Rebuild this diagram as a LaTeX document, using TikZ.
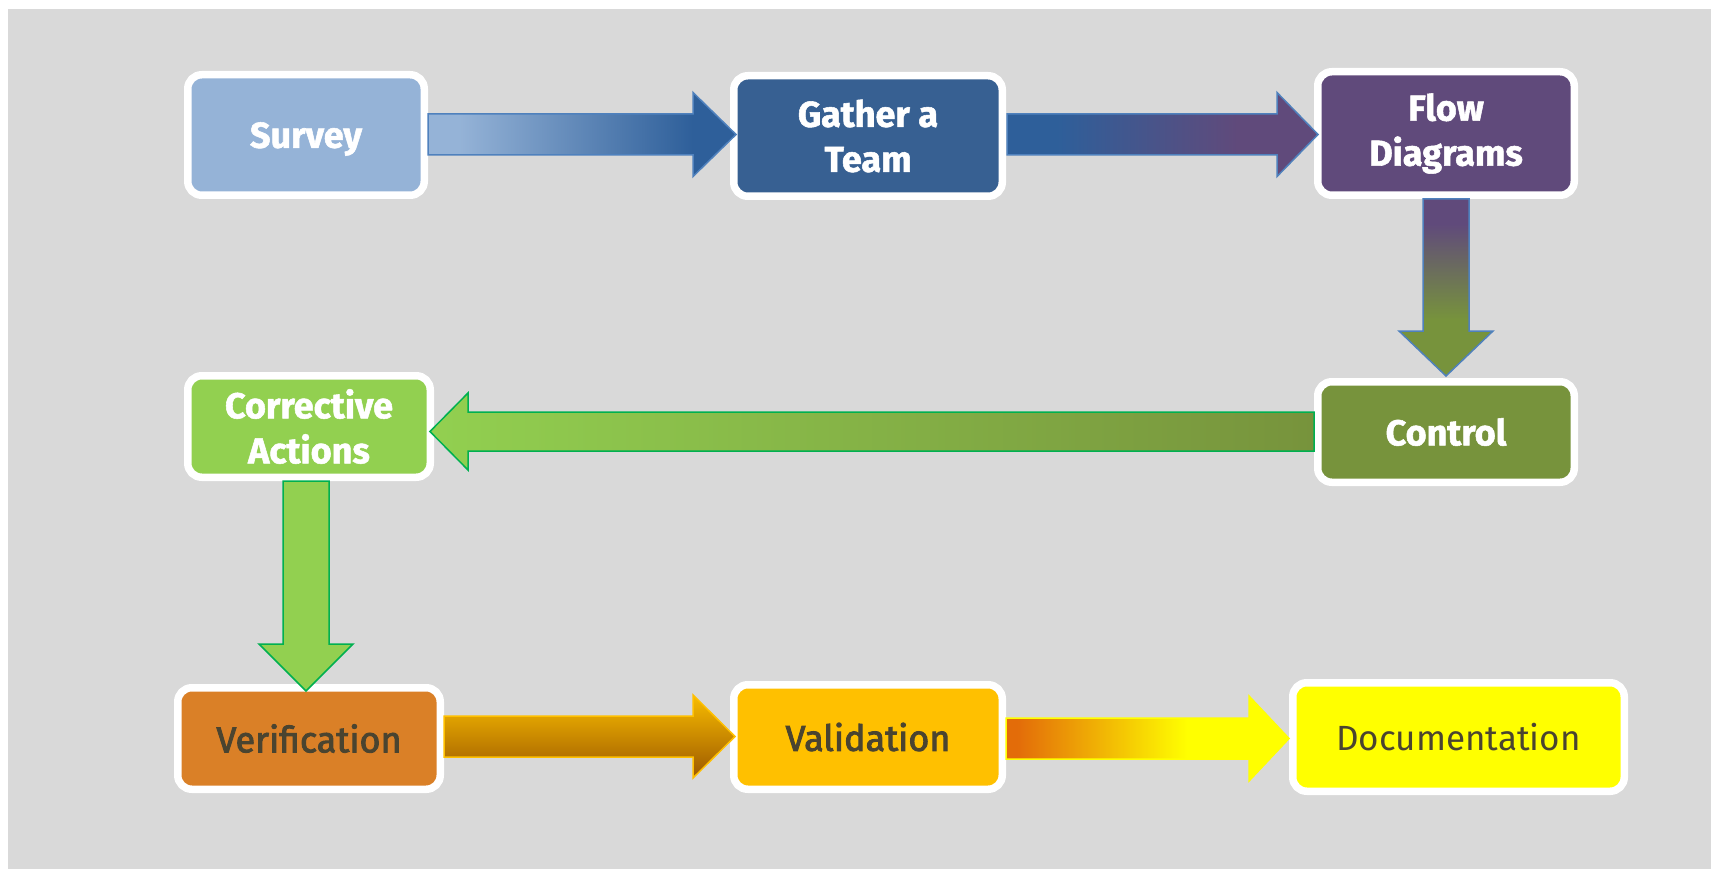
\documentclass[tikz,border=0pt]{standalone}
\usepackage{fontspec}
\setmainfont{Fira Sans}[BoldFeatures={FakeBold=1.5}]
\newfontfamily\medfont{Fira Sans}[FakeBold=2.5]
\usetikzlibrary{calc}
\definecolor{bg}{HTML}{D9D9D9}
\definecolor{cSurvey}{HTML}{95B3D7}
\definecolor{cGather}{HTML}{376092}
\definecolor{cFlow}{HTML}{604A7B}
\definecolor{cControl}{HTML}{77933C}
\definecolor{cCorr}{HTML}{92D050}
\definecolor{cVerif}{HTML}{DA8027}
\definecolor{cValid}{HTML}{FFC000}
\definecolor{cDoc}{HTML}{FFFF00}
\definecolor{cDarkText}{HTML}{4A4430}
\definecolor{blueA}{HTML}{2E5F9A}
\definecolor{lineBlue}{HTML}{4F81BD}
\definecolor{lineGreen}{HTML}{00B050}
\definecolor{gold}{HTML}{F8BC00}
\definecolor{brown}{HTML}{9C5800}
\definecolor{orangeA}{HTML}{E36C09}
\pgfdeclarehorizontalshading{shA}{100bp}{color(0bp)=(cSurvey); color(30bp)=(cSurvey); color(68bp)=(blueA); color(100bp)=(blueA)}
\pgfdeclarehorizontalshading{shB}{100bp}{color(0bp)=(blueA); color(33bp)=(blueA); color(62bp)=(cFlow); color(100bp)=(cFlow)}
\pgfdeclareverticalshading{shC}{100bp}{color(0bp)=(cControl); color(41bp)=(cControl); color(68bp)=(cFlow); color(100bp)=(cFlow)}
\pgfdeclareverticalshading{shF}{100bp}{color(0bp)=(brown); color(25bp)=(brown); color(75bp)=(gold); color(100bp)=(gold)}
\pgfdeclarehorizontalshading{shG}{100bp}{color(0bp)=(orangeA); color(27bp)=(orangeA); color(57bp)=(cDoc); color(100bp)=(cDoc)}
\tikzset{
  box/.style={rectangle, rounded corners=14pt, draw=white, line width=7.5pt,
    inner sep=0pt, align=center, text=white,
    font=\fontsize{36}{45}\selectfont\bfseries},
  darkbox/.style={box, text=cDarkText, font=\fontsize{36}{45}\selectfont\medfont},
  docbox/.style={box, text=cDarkText, font=\fontsize{35}{45}\selectfont},
  blkarrow/.style={line width=1.5pt, line join=miter}
}
% horizontal block arrow: #1 start, #2 tip ref, #3 shaft half, #4 head half, #5 signed head length, #6 style
\newcommand{\harrow}[6]{%
  \coordinate (T) at (#2 |- #1);
  \path[#6] ($(#1)+(0,-#3)$) -- ($(T)+({-(#5)},-#3)$) -- ($(T)+({-(#5)},-#4)$)
    -- (T) -- ($(T)+({-(#5)},#4)$) -- ($(T)+({-(#5)},#3)$) -- ($(#1)+(0,#3)$) -- cycle;}
% vertical (downward) block arrow
\newcommand{\varrow}[6]{%
  \coordinate (T) at (#1 |- #2);
  \path[#6] ($(#1)+(-#3,0)$) -- ($(T)+(-#3,{-(#5)})$) -- ($(T)+(-#4,{-(#5)})$)
    -- (T) -- ($(T)+(#4,{-(#5)})$) -- ($(T)+(#3,{-(#5)})$) -- ($(#1)+(#3,0)$) -- cycle;}
\begin{document}
\begin{tikzpicture}[x=1pt,y=-1pt]
\useasboundingbox (0,0) rectangle (1711,869);
\fill[white] (0,0) rectangle (1711,869);
\fill[bg] (8,9) rectangle (1711,869);

\node[box, fill=cSurvey, minimum width=236.5pt, minimum height=120.5pt, text depth=0pt] (survey) at (306,135) {Survey};
\node[box, fill=cGather, minimum width=268.5pt, minimum height=120.5pt] (gather) at (868,136) {Gather a\\Team};
\node[box, fill=cFlow, minimum width=256.5pt, minimum height=123.5pt] (flow) at (1446,133.5) {Flow\\Diagrams};
\node[box, fill=cControl, minimum width=256.5pt, minimum height=100.5pt] (control) at (1446,432) {Control};
\node[box, fill=cCorr, minimum width=242.5pt, minimum height=101.5pt] (corr) at (309,426.5) {Corrective\\Actions};
\node[darkbox, fill=cVerif, minimum width=262.5pt, minimum height=101.5pt] (verif) at (309,738.5) {Verification};
\node[darkbox, fill=cValid, minimum width=268.5pt, minimum height=104.5pt] (valid) at (868,737) {Validation};
\node[docbox, fill=cDoc, minimum width=331.5pt, minimum height=108.5pt] (doc) at (1458.5,737) {Documentation};

% connectors
\coordinate (s1) at ($(survey.east)+(0,-0.5)$);
\coordinate (t1) at ($(gather.west)+(6,0)$);
\harrow{s1}{t1}{20.5}{42}{43}{blkarrow, draw=lineBlue, shade, shading=shA}

\coordinate (s2) at ($(gather.east)+(1,-1.5)$);
\coordinate (t2) at ($(flow.west)+(4,0)$);
\harrow{s2}{t2}{20.5}{42}{41}{blkarrow, draw=lineBlue, shade, shading=shB}

\coordinate (s3) at (flow.south);
\coordinate (t3) at ($(control.north)+(0,-2)$);
\varrow{s3}{t3}{23}{47}{45}{blkarrow, draw=lineBlue, shade, shading=shC}

\coordinate (s4) at ($(control.west)+(0,-0.5)$);
\coordinate (t4) at ($(corr.east)+(-4,0)$);
\harrow{s4}{t4}{19.5}{38.5}{-38}{blkarrow, draw=lineGreen, left color=cCorr, right color=cControl}

\coordinate (s5) at ($(corr.south)+(-3,0)$);
\coordinate (t5) at ($(verif.north)+(0,7)$);
\varrow{s5}{t5}{23}{47}{47}{blkarrow, draw=lineGreen, fill=cCorr}

\coordinate (s6) at ($(verif.east)+(0,-2)$);
\coordinate (t6) at ($(valid.west)+(5,0)$);
\harrow{s6}{t6}{20.5}{41.5}{42}{blkarrow, draw=cValid, shade, shading=shF}

\coordinate (s7) at ($(valid.east)+(0,1.5)$);
\coordinate (t7) at (doc.west);
\harrow{s7}{t7}{20.5}{42.5}{40}{blkarrow, draw=cDoc, shade, shading=shG}
\end{tikzpicture}
\end{document}
